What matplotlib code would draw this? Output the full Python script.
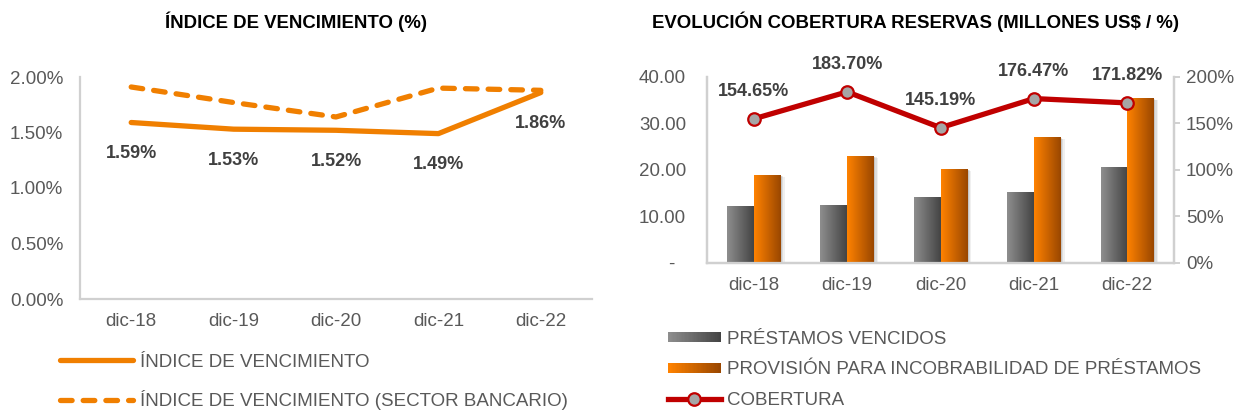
import numpy as np
import matplotlib
matplotlib.use("Agg")
from matplotlib import pyplot as plt
from matplotlib.patches import Rectangle
from matplotlib.lines import Line2D
from matplotlib.legend_handler import HandlerBase
from matplotlib.colors import LinearSegmentedColormap
from matplotlib.ticker import FuncFormatter, MultipleLocator


periodos = ["dic-18", "dic-19", "dic-20", "dic-21", "dic-22"]

# indice de vencimiento (%)
indice = [1.59, 1.53, 1.52, 1.49, 1.86]
indice_sector = [1.91, 1.77, 1.64, 1.90, 1.88]

# millones US$
prestamos_vencidos = [12.2, 12.4, 14.0, 15.2, 20.6]
provision = [18.86, 22.95, 20.15, 27.0, 35.35]
cobertura = [154.65, 183.70, 145.19, 176.47, 171.82]

ORANGE = "#F07F00"
RED = "#C00000"
TXT = "#595959"
LBL = "#404040"
SPINE = "#D0D0D0"
FS = 13.5

gray_cmap = LinearSegmentedColormap.from_list("g", ["#8E8E8E", "#444444"])
orange_cmap = LinearSegmentedColormap.from_list("o", ["#FF8200", "#9A4700"])


class GradientHandler(HandlerBase):
    def __init__(self, cmap, n=40):
        super().__init__()
        self.cmap = cmap
        self.n = n

    def create_artists(self, legend, orig_handle, xdescent, ydescent,
                       width, height, fontsize, trans):
        arts = []
        step = width / self.n
        for i in range(self.n):
            r = Rectangle((-xdescent + i * step, -ydescent), step * 1.1, height,
                          facecolor=self.cmap(i / (self.n - 1)), edgecolor="none",
                          transform=trans)
            arts.append(r)
        return arts


def style_text():
    matplotlib.rc("font", family=["Liberation Sans", "DejaVu Sans"], size=FS)


def plot_indice(fig):
    ax = fig.add_axes([80 / 1235, 1 - 299 / 412, 512 / 1235, 222 / 412])
    x = np.arange(len(periodos))
    ax.plot(x, indice, color=ORANGE, lw=3.8, solid_capstyle="round",
            label="ÍNDICE DE VENCIMIENTO", zorder=3)
    ax.plot(x, indice_sector, color=ORANGE, lw=3.8, linestyle=(0, (2.2, 2.1)),
            dash_capstyle="round", label="ÍNDICE DE VENCIMIENTO (SECTOR BANCARIO)", zorder=2)
    for xi, v in zip(x, indice):
        ax.annotate("{:.2f}%".format(v), (xi, v), xytext=(0, -22.5),
                    textcoords="offset points", ha="center", va="center",
                    fontweight="bold", color=LBL, fontsize=13)
    ax.set_xlim(-0.5, len(periodos) - 0.5)
    ax.set_ylim(0, 2.0)
    ax.yaxis.set_major_locator(MultipleLocator(0.5))
    ax.yaxis.set_major_formatter(FuncFormatter(lambda v, p: "{:.2f}%".format(v)))
    ax.set_xticks(x)
    ax.set_xticklabels(periodos)
    ax.tick_params(axis="both", length=0, colors=TXT, labelsize=FS)
    ax.tick_params(axis="y", pad=12)
    ax.tick_params(axis="x", pad=10)
    for s in ["top", "right"]:
        ax.spines[s].set_visible(False)
    for s in ["left", "bottom"]:
        ax.spines[s].set_color(SPINE)
        ax.spines[s].set_linewidth(1.6)

    fig.text(296 / 1235, 1 - 22 / 412, "ÍNDICE DE VENCIMIENTO (%)", ha="center",
             va="center", fontweight="bold", fontsize=13.4, color="black")

    h, l = ax.get_legend_handles_labels()
    fig.legend(h, l, loc="center left", bbox_to_anchor=(60 / 1235, 1 - 382 / 412),
               frameon=False, borderpad=0, borderaxespad=0, handlelength=3.9,
               handletextpad=0.35, labelspacing=1.05, labelcolor=TXT, fontsize=FS)


def plot_cobertura(fig):
    ax = fig.add_axes([707 / 1235, 1 - 262.7 / 412, 467 / 1235, 186 / 412])
    ax2 = ax.twinx()
    x = np.arange(len(periodos))
    w = 0.285

    b1 = ax.bar(x - w / 2, prestamos_vencidos, w, color="#6A6A6A", zorder=2)
    b2 = ax.bar(x + w / 2, provision, w, color="#D06A00", zorder=2)
    grad = np.linspace(0, 1, 64).reshape(1, -1)
    for bars, cmap in [(b1, gray_cmap), (b2, orange_cmap)]:
        for p in bars:
            x0, y0 = p.get_x(), p.get_y()
            x1, y1 = x0 + p.get_width(), y0 + p.get_height()
            # soft shadow
            for k, a in [(0.045, 0.06), (0.03, 0.08), (0.015, 0.1)]:
                ax.add_patch(Rectangle((x0 + k, y0), p.get_width(), p.get_height() - k * 10,
                                       facecolor="black", alpha=a, edgecolor="none", zorder=1))
            ax.imshow(grad, extent=[x0, x1, y0, y1], cmap=cmap, aspect="auto",
                      interpolation="bicubic", zorder=3)

    ax2.plot(x, cobertura, color=RED, lw=3.8, marker="o", markersize=9,
             markerfacecolor="#A6A6A6", markeredgecolor=RED, markeredgewidth=1.6,
             zorder=4)
    for xi, v in zip(x, cobertura):
        ax2.annotate("{:.2f}%".format(v), (xi, v), xytext=(0, 19.5),
                     textcoords="offset points", ha="center", va="center",
                     fontweight="bold", color=LBL, fontsize=13)

    ax.set_xlim(-0.5, len(periodos) - 0.5)
    ax.set_ylim(0, 40)
    ax2.set_ylim(0, 200)
    ax.yaxis.set_major_locator(MultipleLocator(10))
    ax.yaxis.set_major_formatter(FuncFormatter(lambda v, p: "-  " if v == 0 else "{:.2f}".format(v)))
    ax2.yaxis.set_major_locator(MultipleLocator(50))
    ax2.yaxis.set_major_formatter(FuncFormatter(lambda v, p: "{:.0f}%".format(v)))
    ax.set_xticks(x)
    ax.set_xticklabels(periodos)
    ax.tick_params(axis="both", length=0, colors=TXT, labelsize=FS)
    ax.tick_params(axis="y", pad=15)
    ax.tick_params(axis="x", pad=10)
    ax2.tick_params(axis="y", length=4.5, width=1.4, color=SPINE, labelcolor=TXT,
                    labelsize=FS, pad=4)
    for a in (ax, ax2):
        a.spines["top"].set_visible(False)
        for s in ["left", "bottom", "right"]:
            a.spines[s].set_color(SPINE)
            a.spines[s].set_linewidth(1.6)

    fig.text(915 / 1235, 1 - 22 / 412, "EVOLUCIÓN COBERTURA RESERVAS (MILLONES US$ / %)",
             ha="center", va="center", fontweight="bold", fontsize=13.4, color="black")

    h_gray = Rectangle((0, 0), 1, 1)
    h_orange = Rectangle((0, 0), 1, 1)
    h_line = Line2D([], [], color=RED, lw=3.8, marker="o", markersize=9,
                    markerfacecolor="#A6A6A6", markeredgecolor=RED, markeredgewidth=1.6)
    fig.legend([h_gray, h_orange, h_line],
               ["PRÉSTAMOS VENCIDOS", "PROVISIÓN PARA INCOBRABILIDAD DE PRÉSTAMOS", "COBERTURA"],
               handler_map={h_gray: GradientHandler(gray_cmap),
                            h_orange: GradientHandler(orange_cmap)},
               loc="center left", bbox_to_anchor=(668 / 1235, 1 - 370 / 412),
               frameon=False, borderpad=0, borderaxespad=0, handlelength=2.8,
               handleheight=0.5, handletextpad=0.35, labelspacing=0.74,
               labelcolor=TXT, fontsize=FS)


def main():
    style_text()
    fig = plt.figure(figsize=(12.35, 4.12), dpi=100)
    plot_indice(fig)
    plot_cobertura(fig)
    fig.savefig("out.png", dpi=100)


if __name__ == "__main__":
    main()
